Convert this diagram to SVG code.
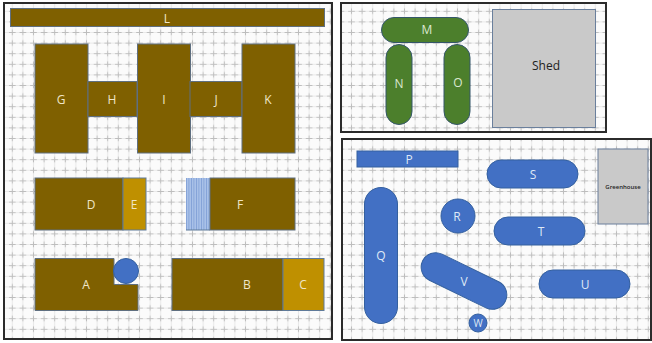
<svg xmlns="http://www.w3.org/2000/svg" width="652" height="343" viewBox="0 0 652 343">
<style>
.panel{fill:url(#grid);stroke:#2b2b2b;stroke-width:2}
.brown{fill:#7f6000;stroke:#5f6f80;stroke-width:1}
.gold{fill:#bf9000;stroke:#5f7a99;stroke-width:1}
.green{fill:#4c7f2c;stroke:#34566a;stroke-width:1}
.blue{fill:#4270c4;stroke:#34609f;stroke-width:1}
.gray{fill:#c9c9c9;stroke:#6a7f9c;stroke-width:1}
text{font-family:"Open Sans","Liberation Sans",sans-serif;font-size:12px;fill:#f0e6c8;text-anchor:middle;dominant-baseline:central}
.lb{fill:#dfe8f6}
.gl{fill:#dbe8d0}
.dk{fill:#222}
</style>
<defs>
<pattern id="grid" x="7" y="6" width="10.6" height="10.6" patternUnits="userSpaceOnUse">
<rect width="10.6" height="10.6" fill="#fbfbfb"/>
<path d="M0 5.300H10.600M5.300 0V10.600" stroke="#e9e9e9" stroke-width="1" fill="none"/>
<path d="M2 5.300H8.600M5.300 2.500V8" stroke="#bdbdbd" stroke-width="1" fill="none"/>
</pattern>
<pattern id="stripes" x="186" y="0" width="2.500" height="10" patternUnits="userSpaceOnUse">
<rect width="2.500" height="10" fill="#a9c1e8"/>
<rect width="0.800" height="10" fill="#7f9fd6"/>
</pattern>
</defs>
<rect width="652" height="343" fill="#fff"/>
<rect class="panel" x="4" y="3" width="328" height="336"/>
<rect class="panel" x="341" y="3" width="265" height="129"/>
<rect class="panel" x="342" y="139" width="309" height="201"/>
<g id="connectors"/>
<g id="node-L"><rect class="brown" x="10.500" y="8.500" width="314" height="18"/><text x="167" y="18">L</text></g>
<g id="node-G"><rect class="brown" x="35" y="44" width="53" height="109"/><text x="61" y="99">G</text></g>
<g id="node-H"><rect class="brown" x="88" y="81.500" width="49" height="35"/><text x="112" y="99">H</text></g>
<g id="node-I"><rect class="brown" x="137.500" y="44" width="53" height="109"/><text x="164" y="99">I</text></g>
<g id="node-J"><rect class="brown" x="190" y="81.500" width="52" height="35"/><text x="216" y="99">J</text></g>
<g id="node-K"><rect class="brown" x="242" y="44" width="53" height="109"/><text x="268" y="99">K</text></g>
<g id="node-D"><rect class="brown" x="35" y="178" width="88" height="52"/><text x="91" y="204">D</text></g>
<g id="node-E"><rect class="gold" x="123" y="178" width="23" height="52"/><text x="134" y="204">E</text></g>
<g id="node-stripes"><rect x="186" y="178" width="24" height="52" fill="url(#stripes)"/><path d="M186 230H210" stroke="#5f7a99"/></g>
<g id="node-F"><rect class="brown" x="210" y="178" width="85" height="52"/><text x="240" y="204">F</text></g>
<g id="node-A"><path class="brown" d="M35 258.500H114V284.500H138V310.500H35Z"/><text x="86" y="284">A</text></g>
<g id="node-circle"><circle class="blue" cx="126" cy="271" r="12.500"/></g>
<g id="node-B"><rect class="brown" x="172" y="258.500" width="111" height="52"/><text x="247" y="284">B</text></g>
<g id="node-C"><rect class="gold" x="283" y="258.500" width="41" height="52"/><text x="303" y="284">C</text></g>
<g id="node-M"><rect class="green" x="381.500" y="17.500" width="87" height="25" rx="12.500"/><text class="gl" x="427" y="29">M</text></g>
<g id="node-N"><rect class="green" x="386" y="44.500" width="26" height="80" rx="13"/><text class="gl" x="399" y="83">N</text></g>
<g id="node-O"><rect class="green" x="444" y="44.500" width="26" height="80" rx="13"/><text class="gl" x="458" y="82">O</text></g>
<g id="node-Shed"><rect class="gray" x="492.500" y="9.500" width="103" height="118"/><text class="dk" x="546" y="65">Shed</text></g>
<g id="node-P"><rect class="blue" x="357" y="151" width="101" height="16"/><text class="lb" x="409" y="159">P</text></g>
<g id="node-S"><rect class="blue" x="487" y="160" width="91" height="28" rx="14"/><text class="lb" x="533" y="174">S</text></g>
<g id="node-R"><circle class="blue" cx="458" cy="216" r="17"/><text class="lb" x="457" y="216">R</text></g>
<g id="node-T"><rect class="blue" x="494" y="217" width="91" height="28" rx="14"/><text class="lb" x="541" y="231">T</text></g>
<g id="node-U"><rect class="blue" x="539" y="270" width="91" height="28" rx="14"/><text class="lb" x="585" y="284">U</text></g>
<g id="node-Q"><rect class="blue" x="364.500" y="187.500" width="33" height="136" rx="16.500"/><text class="lb" x="381" y="255">Q</text></g>
<g id="node-V"><rect class="blue" x="418" y="266.500" width="92" height="29" rx="14.500" transform="rotate(26 464 281)"/><text class="lb" x="464" y="281">V</text></g>
<g id="node-W"><circle class="blue" cx="478" cy="323" r="9"/><text class="lb" x="478" y="323" style="font-size:10px">W</text></g>
<g id="node-Greenhouse"><rect class="gray" x="598" y="149" width="50" height="75"/><text class="dk" x="623" y="187" style="font-size:6px;font-weight:600">Greenhouse</text></g>
</svg>
